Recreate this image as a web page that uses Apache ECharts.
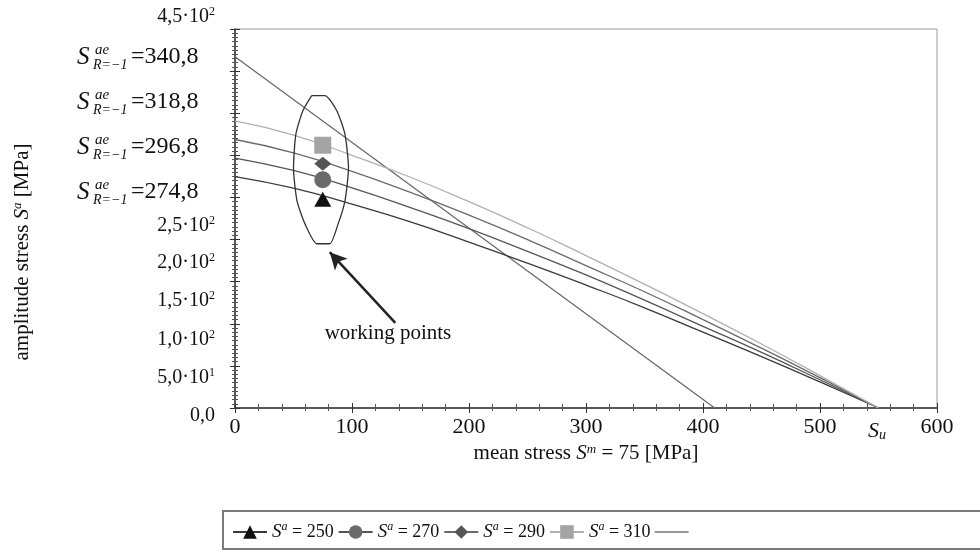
<!DOCTYPE html>
<html>
<head>
<meta charset="utf-8">
<script src="https://cdn.jsdelivr.net/npm/echarts@6/dist/echarts.min.js"></script>
<style>html,body{margin:0;background:#fff}#chart{width:980px;height:553px}</style>
</head>
<body>
<div id="chart"></div>
<script>
const FONT = '"Liberation Serif", "Times New Roman", serif';

// amplitude curves [MPa]
const meanStress = [0, 50, 100, 150, 200, 250, 300, 350, 400, 450, 500, 550];
const amp250 = [274.8, 261, 242, 221, 197, 172, 146, 119, 90, 61, 31, 0];
const amp270 = [296.8, 282, 261.5, 238, 213, 186, 158, 128, 97, 66, 33.5, 0];
const amp290 = [318.8, 303, 281, 256, 229, 200, 169, 138, 105, 71, 36, 0];
const amp310 = [340.8, 324, 300, 274, 245, 214, 181, 147, 112, 76, 38.5, 0];

// straight limit line
const limitX = [0, 410];
const limitY = [417, 0];

// working points at S^m = 75
const workX = [75, 75, 75, 75];
const workY = [248, 271, 290, 312];

// outline drawn round the working points
const ringX = [65.5, 77, 87, 94, 97, 94, 88, 81, 70, 60, 53, 50, 52, 58, 65.5];
const ringY = [371, 371, 353, 325, 285, 246, 218, 195, 195, 218, 246, 285, 325, 353, 371];

// arrow pointing at the ring
const arrowFrom = [137, 101];
const arrowTo = [81, 185];

const yTickValues = [0, 50, 100, 150, 200, 250, 450];
const yTickMant = ['0,0', '5,0·10', '1,0·10', '1,5·10', '2,0·10', '2,5·10', '4,5·10'];
const yTickExp = ['', '1', '2', '2', '2', '2', '2'];
// the printed labels sit below their ticks (above for the top one)
const yLabelGap = [16, 24, 32, 38, 46, 56, -24];

const saeValues = ['340,8', '318,8', '296,8', '274,8'];
const seriesNames = ['Sa250', 'Sa270', 'Sa290', 'Sa310'];
const seriesLabels = ['250', '270', '290', '310'];
const symbols = ['triangle', 'circle', 'diamond', 'rect'];
const symbolSizes = [[17, 15], 17, [17, 14], 17];
const markerColors = ['#111', '#6a6a6a', '#555', '#a4a4a4'];
const lineColors = ['#3a3a3a', '#555', '#6a6a6a', '#b0b0b0'];
const curves = [amp250, amp270, amp290, amp310];

const zip = (xs, ys) => xs.map((x, i) => [x, ys[i]]);

const series = [];
curves.forEach((c, i) => {
  series.push({
    name: seriesNames[i], type: 'line', smooth: true, showSymbol: false,
    symbol: symbols[i], symbolSize: 13,
    lineStyle: { color: lineColors[i], width: 1.3 },
    itemStyle: { color: markerColors[i] },
    data: zip(meanStress, c), z: 3
  });
});
series.push({
  name: 'limit', type: 'line', showSymbol: false, symbol: 'none',
  lineStyle: { color: '#666', width: 1.2 }, itemStyle: { color: '#777' },
  data: zip(limitX, limitY), z: 2
});
workX.forEach((x, i) => {
  series.push({
    name: seriesNames[i], type: 'scatter', symbol: symbols[i], symbolSize: symbolSizes[i],
    itemStyle: { color: markerColors[i], opacity: 1 }, data: [[x, workY[i]]], z: 5
  });
});
series.push({
  name: 'ring', type: 'line', showSymbol: false, symbol: 'none', smooth: 0.2,
  lineStyle: { color: '#333', width: 1.3 }, data: zip(ringX, ringY), z: 4,
  markLine: {
    silent: true, symbol: ['none', 'arrow'], symbolSize: [13, 17],
    lineStyle: { color: '#222', width: 2.5, type: 'solid' },
    label: { show: false },
    data: [[{ coord: arrowFrom }, { coord: arrowTo }]]
  }
});

const yRich = {
  m: { fontFamily: FONT, fontSize: 20, lineHeight: 22, color: '#111' },
  e: { fontFamily: FONT, fontSize: 12, lineHeight: 12, verticalAlign: 'top', color: '#111' }
};
yLabelGap.forEach((g, i) => { yRich['g' + i] = { fontSize: 8, lineHeight: Math.abs(g) }; });

const graphics = [];
const rowY = [57, 102, 147, 192];
saeValues.forEach((v, i) => {
  const y = rowY[i];
  graphics.push(
    { type: 'text', x: 77, y: y, style: { text: 'S', font: 'italic 25px ' + FONT, fill: '#111', verticalAlign: 'middle' } },
    { type: 'text', x: 95, y: y - 7, style: { text: 'ae', font: 'italic 15px ' + FONT, fill: '#111', verticalAlign: 'middle' } },
    { type: 'text', x: 93, y: y + 8, style: { text: 'R=−1', font: 'italic 14px ' + FONT, fill: '#111', verticalAlign: 'middle' } },
    { type: 'text', x: 131, y: y, style: { text: '=' + v, font: '24px ' + FONT, fill: '#111', verticalAlign: 'middle' } }
  );
});
graphics.push(
  { type: 'text', x: 388, y: 333, style: { text: 'working points', font: '21px ' + FONT, fill: '#111', align: 'center', verticalAlign: 'middle' } },
  { type: 'text', x: 868, y: 431, style: { text: '{s|S}{u|u}', verticalAlign: 'middle',
      rich: { s: { font: 'italic 22px ' + FONT, fill: '#111', lineHeight: 22 },
              u: { font: 'italic 14px ' + FONT, fill: '#111', lineHeight: 12, verticalAlign: 'bottom' } } } },
  { type: 'text', x: 22, y: 252, rotation: Math.PI / 2, style: {
      text: '{n|amplitude stress }{i|S}{s|a}{n| [MPa]}', align: 'center', verticalAlign: 'middle',
      rich: { n: { font: '21px ' + FONT, fill: '#111', lineHeight: 22 },
              i: { font: 'italic 21px ' + FONT, fill: '#111', lineHeight: 22 },
              s: { font: 'italic 13px ' + FONT, fill: '#111', lineHeight: 12, verticalAlign: 'top' } } } },
  { type: 'rect', z: -1, shape: { x: 223, y: 511, width: 780, height: 38 },
    style: { fill: '#fff', stroke: '#7a7a7a', lineWidth: 2 } }
);

const chart = echarts.init(document.getElementById('chart'));
chart.setOption({
  backgroundColor: '#fff',
  animation: false,
  grid: { left: 235, right: 43, top: 29, bottom: 145, show: true, borderColor: '#999', borderWidth: 1 },
  xAxis: [{
    type: 'value', min: 0, max: 600, interval: 100,
    axisLine: { lineStyle: { color: '#333', width: 1.5 } },
    axisTick: { length: 5, lineStyle: { color: '#333' } },
    minorTick: { show: true, splitNumber: 5, length: 3, lineStyle: { color: '#555' } },
    splitLine: { show: false },
    axisLabel: { fontFamily: FONT, fontSize: 22, color: '#111', margin: 8, showMinLabel: true },
    name: '{n|mean stress }{i|S}{s|m}{n| = 75 [MPa]}', nameLocation: 'middle', nameGap: 32,
    nameTextStyle: { rich: {
      n: { fontFamily: FONT, fontSize: 21, color: '#111', lineHeight: 22 },
      i: { fontFamily: FONT, fontStyle: 'italic', fontSize: 21, color: '#111', lineHeight: 22 },
      s: { fontFamily: FONT, fontStyle: 'italic', fontSize: 13, color: '#111', lineHeight: 12, verticalAlign: 'top' } } }
  }, {
    type: 'value', min: 0, max: 600, interval: 100, position: 'bottom',
    axisLine: { show: false }, axisLabel: { show: false }, splitLine: { show: false },
    axisTick: { inside: true, length: 5, lineStyle: { color: '#333' } },
    minorTick: { show: true, splitNumber: 5, length: 4, lineStyle: { color: '#555' } }
  }],
  yAxis: [{
    type: 'value', min: 0, max: 450, interval: 50,
    axisLine: { show: true, lineStyle: { color: '#333', width: 1.5 } },
    axisTick: { show: true, length: 5, lineStyle: { color: '#333' } },
    minorTick: { show: true, splitNumber: 10, length: 3, lineStyle: { color: '#555' } },
    splitLine: { show: false },
    axisLabel: {
      margin: 20, rich: yRich, showMinLabel: true, showMaxLabel: true, hideOverlap: false,
      formatter: (v) => {
        const i = yTickValues.indexOf(v);
        if (i < 0) return '';
        const t = '{m|' + yTickMant[i] + '}' + (yTickExp[i] ? '{e|' + yTickExp[i] + '}' : '');
        const gap = '{g' + i + '| }';
        return yLabelGap[i] < 0 ? t + '\n' + gap : gap + '\n' + t;
      }
    }
  }, {
    type: 'value', min: 0, max: 450, interval: 50, position: 'left',
    axisLine: { show: false }, axisLabel: { show: false }, splitLine: { show: false },
    axisTick: { show: true, inside: true, length: 5, lineStyle: { color: '#333' } },
    minorTick: { show: true, splitNumber: 10, length: 3, lineStyle: { color: '#555' } }
  }],
  legend: {
    left: 227, top: 516, itemWidth: 34, itemHeight: 17, itemGap: 4, itemStyle: { borderWidth: 0 },
    data: seriesNames.map((n) => ({ name: n })).concat([{ name: 'limit', icon: 'path://M0,0H40V2H0Z' }]),
    formatter: (name) => {
      const i = seriesNames.indexOf(name);
      return i < 0 ? ' ' : '{i|S}{s|a}{n| = ' + seriesLabels[i] + '}';
    },
    textStyle: { rich: {
      i: { fontFamily: FONT, fontStyle: 'italic', fontSize: 19, color: '#111', lineHeight: 22 },
      s: { fontFamily: FONT, fontStyle: 'italic', fontSize: 12, color: '#111', lineHeight: 12, verticalAlign: 'top' },
      n: { fontFamily: FONT, fontSize: 18, color: '#111', lineHeight: 22 } } }
  },
  graphic: graphics,
  series: series
});
</script>
</body>
</html>
